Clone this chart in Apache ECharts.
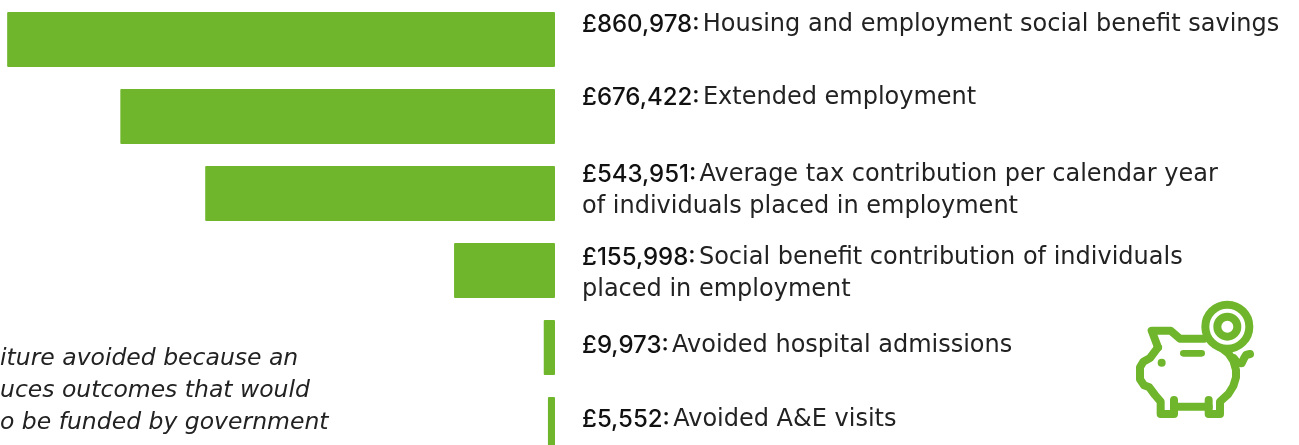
<!DOCTYPE html>
<html>
<head>
<meta charset="utf-8">
<style>
html, body { margin: 0; padding: 0; background: #fff; }
#chart { width: 1299px; height: 445px; }
</style>
</head>
<body>
<div id="chart"></div>
<script src="https://cdn.jsdelivr.net/npm/echarts@6/dist/echarts.min.js"></script>
<script>
var amounts = ['£860,978:', '£676,422:', '£543,951:', '£155,998:', '£9,973:', '£5,552:']
var descriptions = [
    'Housing and employment social benefit savings',
    'Extended employment',
    'Average tax contribution per calendar year\nof individuals placed in employment',
    'Social benefit contribution of individuals\nplaced in employment',
    'Avoided hospital admissions',
    'Avoided A&E visits'
]
// bar lengths as drawn in the picture, in pounds (the two thin ones are drawn wider than their amount)
var barValues = [852000, 676000, 544000, 157000, 17500, 11000]
var noteLines = ['iture avoided because an', 'uces outcomes that would', 'o be funded by government']

var green = '#70b62c'
var textFont = 'DejaVu Sans'
// label nudges, the text is not centred on the bars in the original
var labelShift = [-15, -18.5, -2.5, 3, -1.5, -4.5]

var chart = echarts.init(document.getElementById('chart'), null, {renderer: 'canvas'})

var barData = barValues.map(function (v, i) {
    return {
        value: v,
        label: {
            offset: [0, labelShift[i]],
            formatter: '{a|' + amounts[i] + '} ' + descriptions[i].split('\n').map(function (l) {
                return '{b|' + l + '}'
            }).join('\n')
        }
    }
})

// piggy bank outline at 3x
var pigBody = [[174, 172], [155, 122], [212, 122], [240, 146], [312, 146]]
var pigBack = [[362, 172], [385, 190], [400, 212], [408, 240], [408, 262], [400, 288], [385, 312], [360, 335],
    [360, 372], [326, 372], [326, 330]]
var pigBelly = [[326, 350], [222, 350]]
var pigFront = [[222, 330], [222, 372], [182, 372], [182, 335], [165, 315], [148, 292], [132, 286], [120, 268],
    [120, 232], [130, 215], [150, 204], [174, 172]]
var pigTail = [[402, 205], [412, 218], [425, 220], [432, 205], [438, 195], [450, 192]]
var pigStyle = {fill: null, stroke: green, lineWidth: 24, lineCap: 'round', lineJoin: 'round'}

chart.setOption({
    animation: false,
    grid: {left: 0, top: 1, width: 555, height: 462, outerBoundsMode: 'none'},
    xAxis: {
        type: 'value',
        inverse: true,
        min: 0,
        max: 555 / 0.000643,
        show: false
    },
    yAxis: {
        type: 'category',
        inverse: true,
        data: amounts,
        show: false
    },
    series: [{
        type: 'bar',
        data: barData,
        barWidth: 55,
        itemStyle: {color: green, borderRadius: 1},
        label: {
            show: true,
            position: 'right',
            distance: 27,
            rich: {
                a: {fontFamily: 'Inter', fontSize: 24, fontWeight: 500, color: '#111', lineHeight: 32},
                b: {fontFamily: textFont, fontSize: 24, color: '#222', lineHeight: 32}
            }
        }
    }],
    graphic: [
        {
            type: 'text',
            left: 0,
            top: 343,
            style: {
                text: noteLines.join('\n'),
                font: 'italic 23.5px ' + textFont,
                lineHeight: 32,
                fill: '#222'
            }
        },
        {
            type: 'group',
            x: 1100,
            y: 290,
            scaleX: 1 / 3,
            scaleY: 1 / 3,
            children: [
                {type: 'polyline', shape: {points: pigBody}, style: pigStyle},
                {type: 'polyline', shape: {points: pigBack}, style: pigStyle},
                {type: 'polyline', shape: {points: pigBelly}, style: pigStyle},
                {type: 'polyline', shape: {points: pigFront}, style: pigStyle},
                {type: 'polyline', shape: {points: pigTail}, style: pigStyle},
                {type: 'line', shape: {x1: 250, y1: 190, x2: 305, y2: 190}, style: {stroke: green, lineWidth: 20, lineCap: 'round'}},
                {type: 'circle', shape: {cx: 185, cy: 218, r: 12}, style: {fill: green}},
                {type: 'circle', shape: {cx: 382, cy: 110, r: 66}, style: {fill: '#fff', stroke: green, lineWidth: 24}},
                {type: 'circle', shape: {cx: 382, cy: 110, r: 30}, style: {fill: null, stroke: green, lineWidth: 24}}
            ]
        }
    ]
})
</script>
</body>
</html>
